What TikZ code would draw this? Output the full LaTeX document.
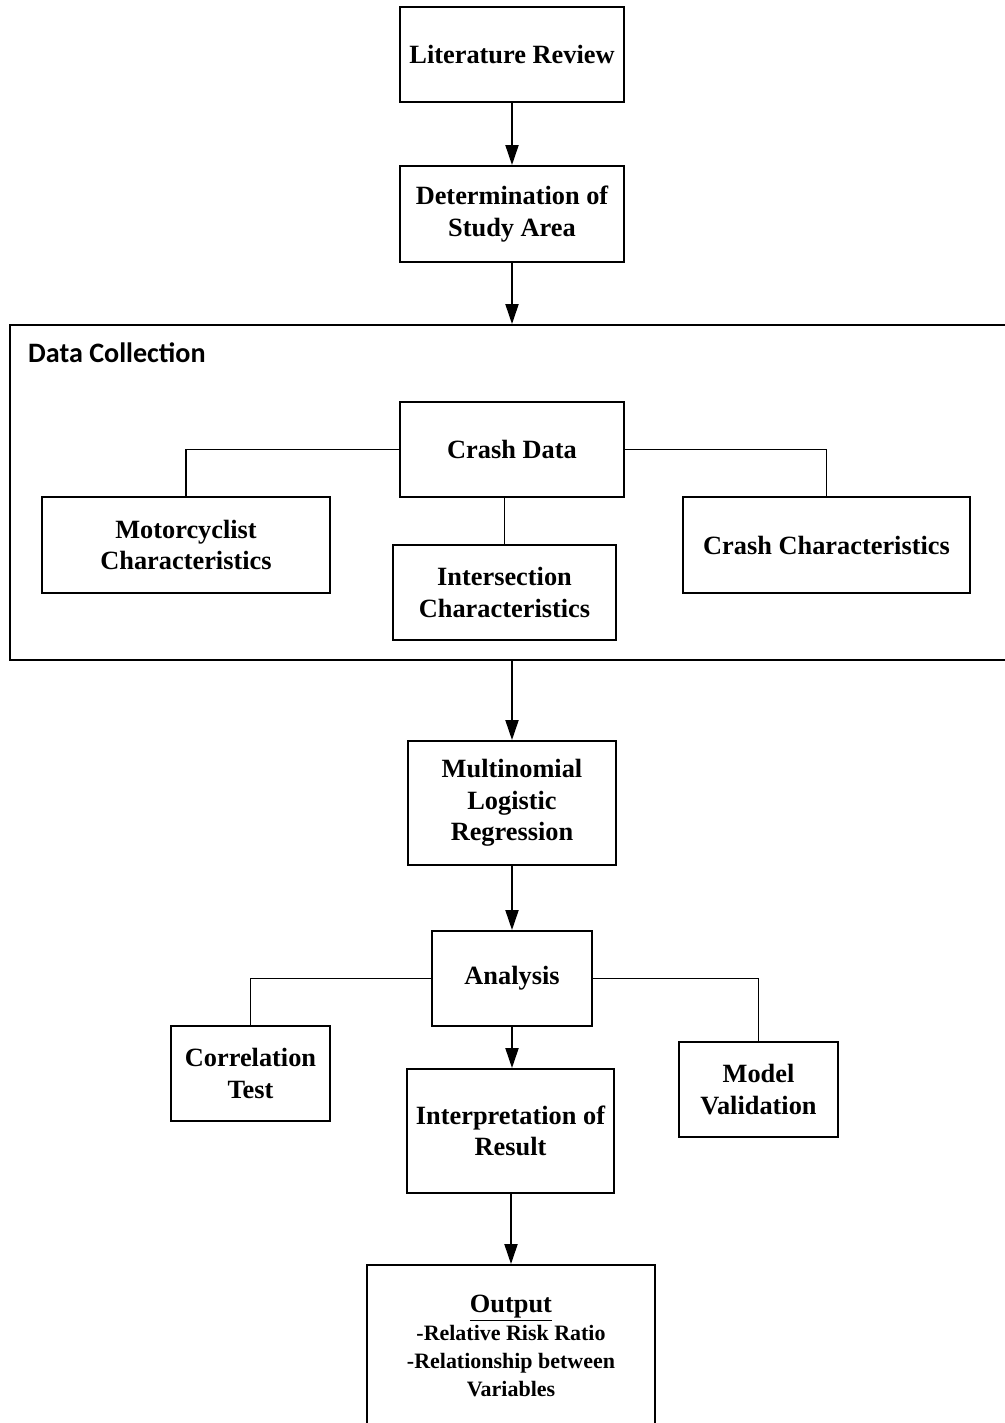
\documentclass[tikz,border=0pt]{standalone}
\usepackage{fontspec}
\setmainfont{Liberation Serif}
\newfontfamily\labelfont{Carlito}
\usetikzlibrary{arrows.meta}

\begin{document}
\begin{tikzpicture}[
        x=0.02cm, y=-0.02cm,
        box/.style={draw, line width=1.1pt, align=center, inner sep=2pt, font=\fontsize{15}{18}\selectfont\bfseries},
        flow/.style={-{Triangle[length=0.4cm, width=0.26cm]}, line width=1.1pt},
        link/.style={line width=0.9pt}
    ]
    \useasboundingbox (0,0) rectangle (1004,1423);

    % Nodes
    \node[box, minimum width=4.48cm, minimum height=1.9cm] (lit) at (512,54.5) {Literature Review};
    \node[box, minimum width=4.48cm, minimum height=1.92cm] (det) at (512,214) {Determination of\\Study Area};
    \node[box, minimum width=20.2cm, minimum height=6.7cm] (dc) at (515,492.5) {};
    \node[anchor=west, font=\labelfont\bfseries\fontsize{16}{18}\selectfont] (dclabel) at (22,353) {Data Collection};
    \node[box, minimum width=4.48cm, minimum height=1.9cm] (crash) at (512,449.5) {Crash Data};
    \node[box, minimum width=5.76cm, minimum height=1.92cm] (moto) at (186,545) {Motorcyclist\\Characteristics};
    \node[box, minimum width=4.46cm, minimum height=1.9cm] (inter) at (504.5,592.5) {Intersection\\Characteristics};
    \node[box, minimum width=5.74cm, minimum height=1.92cm] (crashchar) at (826.5,545) {Crash Characteristics};
    \node[box, minimum width=4.16cm, minimum height=2.48cm] (mlr) at (512,803) {Multinomial\\Logistic\\Regression};
    \node[box, minimum width=3.2cm, minimum height=1.9cm] (ana) at (512,978.5) {Analysis};
    \node[box, minimum width=3.18cm, minimum height=1.9cm] (corr) at (250.5,1073.5) {Correlation\\Test};
    \node[box, minimum width=4.14cm, minimum height=2.48cm] (interp) at (510.5,1131) {Interpretation of\\Result};
    \node[box, minimum width=3.18cm, minimum height=1.9cm] (model) at (758.5,1089.5) {Model\\Validation};
    \node[box, minimum width=5.76cm, minimum height=3.24cm, font=\fontsize{12.5}{16}\selectfont\bfseries] (out) at (511,1346)
        {{\fontsize{15}{18}\selectfont\underline{Output}}\\-Relative Risk Ratio\\-Relationship between\\Variables};

    % Arrows
    \draw[flow] (lit) -- (det);
    \draw[flow] (det) -- (det |- dc.north);
    \draw[link] (crash.west) -| (moto.north);
    \draw[link] (crash.east) -| (crashchar.north);
    \draw[link] (inter.north |- crash.south) -- (inter.north);
    \draw[flow] (mlr.north |- dc.south) -- (mlr.north);
    \draw[flow] (mlr) -- (ana);
    \draw[link] (ana.west) -| (corr.north);
    \draw[link] (ana.east) -| (model.north);
    \draw[flow] (ana.south) -- (ana.south |- interp.north);
    \draw[flow] (out.north |- interp.south) -- (out.north);

\end{tikzpicture}
\end{document}
